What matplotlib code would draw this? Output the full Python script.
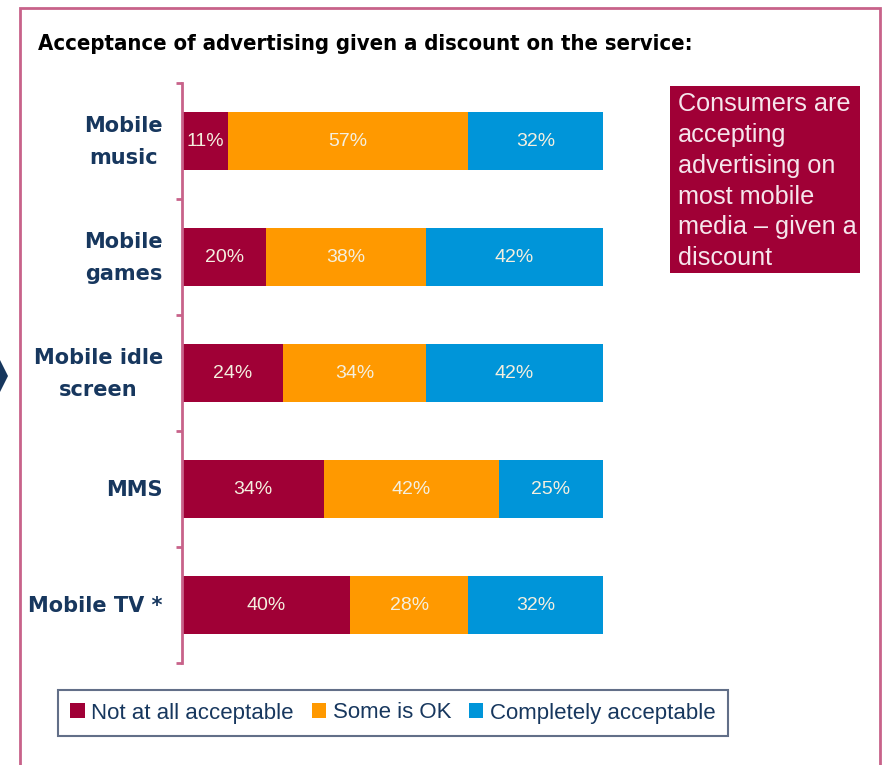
import numpy as np
import matplotlib.pyplot as plt
from matplotlib.patches import Rectangle, Polygon, Patch

# survey data, one row per mobile service
services = ["Mobile\nmusic", "Mobile\ngames", "Mobile idle\nscreen", "MMS", "Mobile TV *"]
not_acceptable = [11, 20, 24, 34, 40]
some_ok = [57, 38, 34, 42, 28]
completely = [32, 42, 42, 25, 32]
series_names = ["Not at all acceptable", "Some is OK", "Completely acceptable"]
series_colors = ["#a00036", "#ff9900", "#0095d9"]

title = "Acceptance of advertising given a discount on the service:"
callout = "Consumers are\naccepting\nadvertising on\nmost mobile\nmedia \u2013 given a\ndiscount"

frame_col = "#c8628a"
navy = "#17375e"
label_col = "#f4efdf"

W, H = 887, 765
fig = plt.figure(figsize=(W / 100, H / 100), dpi=100)

def px(x, y):
    # pixel position (from top-left) -> figure fraction
    return x / W, 1 - y / H

# outer frame, open at the bottom
l, t = px(20, 8)
r, _ = px(880, 8)
fig.patches.append(Rectangle((l, -0.05), r - l, t + 0.05, transform=fig.transFigure,
                             fill=False, edgecolor=frame_col, linewidth=2))

# small chevron at the left edge
pts = [px(-10, 360), px(0, 360), px(8, 376), px(0, 392), px(-10, 392)]
fig.patches.append(Polygon(pts, closed=True, transform=fig.transFigure,
                           facecolor=navy, edgecolor="none"))

fig.text(*px(38, 44), title, fontsize=15.8, fontweight="bold", color="black",
         family="DejaVu Sans", fontstretch="condensed", va="center", ha="left")

x0, y_top = px(182, 83)
x1, y_bot = px(603, 663)
ax = fig.add_axes([x0, y_bot, x1 - x0, y_top - y_bot])

data = np.array([not_acceptable, some_ok, completely], dtype=float)
totals = data.sum(axis=0)
shares = data / totals * 100
ypos = np.arange(len(services))

left = np.zeros(len(services))
for vals, share, name, col in zip(data, shares, series_names, series_colors):
    ax.barh(ypos, share, left=left, height=0.5, color=col, label=name)
    for y, v, s, lft in zip(ypos, vals, share, left):
        ax.text(lft + s / 2, y, f"{v:.0f}%", ha="center", va="center",
                color=label_col, fontsize=14, family="Liberation Sans")
    left += share

ax.set_xlim(0, 100)
ax.set_ylim(len(services) - 0.5, -0.5)
ax.set_xticks([])
ax.set_yticks([])
# category names to the left of the axis line
for y, name in zip(ypos, services):
    ax.annotate(name, xy=(0, y), xycoords=("axes fraction", "data"),
                xytext=(-19, -1), textcoords="offset pixels",
                ha="right", va="center", multialignment="center",
                fontsize=15, fontweight="bold", color=navy,
                family="DejaVu Sans", linespacing=1.8)
ax.set_yticks(np.arange(-0.5, len(services)), minor=True)
ax.tick_params(axis="y", which="minor", length=4, width=2, color=frame_col, direction="out")
for side in ["top", "right", "bottom"]:
    ax.spines[side].set_visible(False)
ax.spines["left"].set_color(frame_col)
ax.spines["left"].set_linewidth(2)
ax.patch.set_visible(False)

# callout box on the right
bx, by = px(670, 273)
bx2, by2 = px(860, 86)
fig.patches.append(Rectangle((bx, by), bx2 - bx, by2 - by, transform=fig.transFigure,
                             facecolor="#a00036", edgecolor="none"))
fig.text(*px(678, 92), callout, fontsize=18.2, color="#f6e6ec", family="Liberation Sans",
         va="top", ha="left", linespacing=1.36)

handles = [Patch(facecolor=c, label=n) for n, c in zip(series_names, series_colors)]
leg = fig.legend(handles=handles, loc="center", bbox_to_anchor=px(393, 713), ncol=3,
                 frameon=True, fancybox=False, handlelength=0.65, handleheight=0.65,
                 handletextpad=0.3, columnspacing=0.8, borderpad=0.55, borderaxespad=0,
                 prop={"family": "Liberation Sans", "size": 16})
leg.get_frame().set_edgecolor("#3b4b6b")
leg.get_frame().set_linewidth(1.5)
for txt in leg.get_texts():
    txt.set_color(navy)

fig.savefig("out.png", dpi=100)
